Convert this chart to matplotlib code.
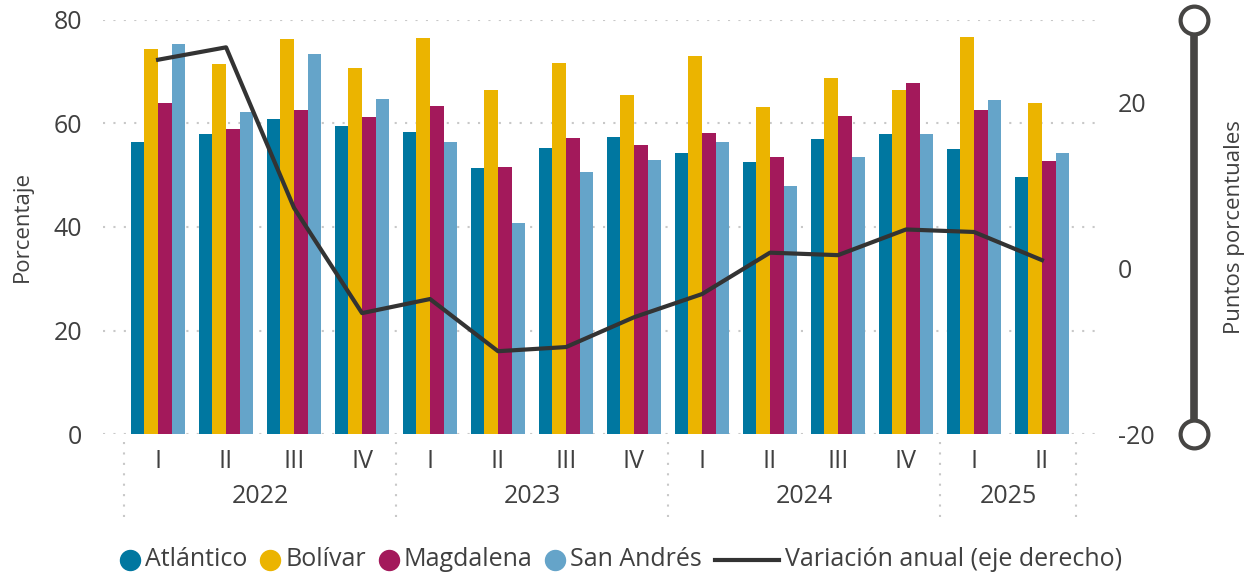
import numpy as np
import matplotlib
matplotlib.use("Agg")
from matplotlib import pyplot as plt
from matplotlib.lines import Line2D
import matplotlib.transforms as mtransforms

plt.rcParams['font.family'] = ['Open Sans', 'DejaVu Sans']
plt.rcParams['axes.unicode_minus'] = False

# data
years = ['2022', '2023', '2024', '2025']
quarters = ['I', 'II', 'III', 'IV', 'I', 'II', 'III', 'IV', 'I', 'II', 'III', 'IV', 'I', 'II']
atlantico = [56.4, 58.0, 60.9, 59.5, 58.4, 51.4, 55.3, 57.4, 54.3, 52.6, 57.0, 58.0, 55.1, 49.7]
bolivar = [74.4, 71.5, 76.3, 70.7, 76.5, 66.5, 71.7, 65.5, 73.0, 63.2, 68.8, 66.5, 76.7, 64.0]
magdalena = [64.0, 58.9, 62.6, 61.3, 63.4, 51.6, 57.2, 55.8, 58.2, 53.5, 61.4, 67.8, 62.6, 52.8]
san_andres = [75.4, 62.2, 73.4, 64.7, 56.4, 40.8, 50.6, 52.9, 56.4, 47.9, 53.5, 58.0, 64.5, 54.3]
variacion = [25.2, 26.7, 7.3, -5.4, -3.7, -10.0, -9.5, -5.9, -3.1, 1.9, 1.6, 4.7, 4.4, 1.0]

series = [('Atlántico', atlantico, '#0077A0'),
          ('Bolívar', bolivar, '#EBB400'),
          ('Magdalena', magdalena, '#A3195B'),
          ('San Andrés', san_andres, '#65A4C9')]
txt = '#404040'
W, H = 1248, 578
fs = 18

fig = plt.figure(figsize=(12.48, 5.78), dpi=100)
ax = fig.add_axes([103 / W, 1 - 434 / H, 994 / W, 414 / H])
ax2 = ax.twinx()

x = np.arange(len(quarters))
bw = 0.2
for i, (name, vals, col) in enumerate(series):
    ax.bar(x + (i - 1.5) * bw, vals, width=bw, color=col, zorder=2)

ax.set_xlim(-0.81, len(quarters) - 1 + 0.81)
ax.set_ylim(0, 80)
ax.set_yticks([0, 20, 40, 60, 80])
ax.grid(axis='y', color='#c8c8c8', linestyle=(0, (1, 4)), linewidth=1.5, zorder=0)
ax.set_axisbelow(True)
ax.set_xticks(x)
ax.set_xticklabels(quarters)
ax.tick_params(axis='x', length=0, pad=11, labelsize=fs, labelcolor=txt)
ax.tick_params(axis='y', length=0, pad=15, labelsize=fs, labelcolor=txt)
for s in ax.spines.values():
    s.set_visible(False)
ax.set_ylabel('Porcentaje', fontsize=16, color=txt)
ax.yaxis.set_label_coords(-0.071, 0.5)

# year labels and separators
trans = mtransforms.blended_transform_factory(ax.transData, ax.transAxes)
year_starts = [0, 4, 8, 12]
year_ends = [4, 8, 12, 14]
for yr, a, b in zip(years, year_starts, year_ends):
    ax.text((a + b - 1) / 2, -0.152, yr, transform=trans, ha='center', va='center',
            fontsize=fs, color=txt)
for sep in [-0.5, 3.5, 7.5, 11.5, 13.5]:
    ax.plot([sep, sep], [-0.02, -0.2], transform=trans, color='#c8c8c8',
            linestyle=(0, (1, 4)), linewidth=1.5, clip_on=False)

# right axis
ax2.plot(x, variacion, color='#333333', linewidth=3, zorder=5)
ax2.set_ylim(-20, 30)
ax2.set_yticks([-20, 0, 20])
ax2.tick_params(axis='y', length=0, pad=15, labelsize=fs, labelcolor=txt)
for s in ax2.spines.values():
    s.set_visible(False)
ax2.set_ylabel('Puntos porcentuales', fontsize=16, color=txt)
ax2.yaxis.set_label_coords(1.128, 0.5)

trans2 = mtransforms.blended_transform_factory(ax2.transAxes, ax2.transData)
sx = (1194 - 103) / 994
ax2.plot([sx, sx], [-20, 30], transform=trans2, color='#464543', linewidth=5.5,
         clip_on=False, solid_capstyle='butt')
ax2.plot([sx, sx], [-20, 30], transform=trans2, linestyle='none', marker='o',
         markersize=20, markerfacecolor='white', markeredgecolor='#464543',
         markeredgewidth=3, clip_on=False)

# legend drawn by hand
renderer = fig.canvas.get_renderer()
ly = 1 - 560 / H
items = [(n, c, 'dot') for n, _, c in series] + [('Variación anual (eje derecho)', '#333333', 'line')]
texts = []
widths = []
for name, col, kind in items:
    t = fig.text(0, ly, name, fontsize=fs, color=txt, va='center', ha='left')
    texts.append(t)
    widths.append(t.get_window_extent(renderer).width)
total = 0
layout = []
for (name, col, kind), w in zip(items, widths):
    hw = 20 if kind == 'dot' else 64
    gap = 5 if kind == 'dot' else 6
    layout.append((total, hw, gap))
    total += hw + gap + w + 13
total -= 13
x0 = 621 - total / 2
for (name, col, kind), t, (off, hw, gap) in zip(items, texts, layout):
    start = x0 + off
    if kind == 'dot':
        fig.add_artist(Line2D([(start + 10) / W], [ly], marker='o', markersize=14.4,
                              color=col, linestyle='none', transform=fig.transFigure))
    else:
        fig.add_artist(Line2D([start / W, (start + hw) / W], [ly, ly], color=col,
                              linewidth=3, transform=fig.transFigure))
    t.set_x((start + hw + gap) / W)

fig.savefig('out.png', dpi=100)
